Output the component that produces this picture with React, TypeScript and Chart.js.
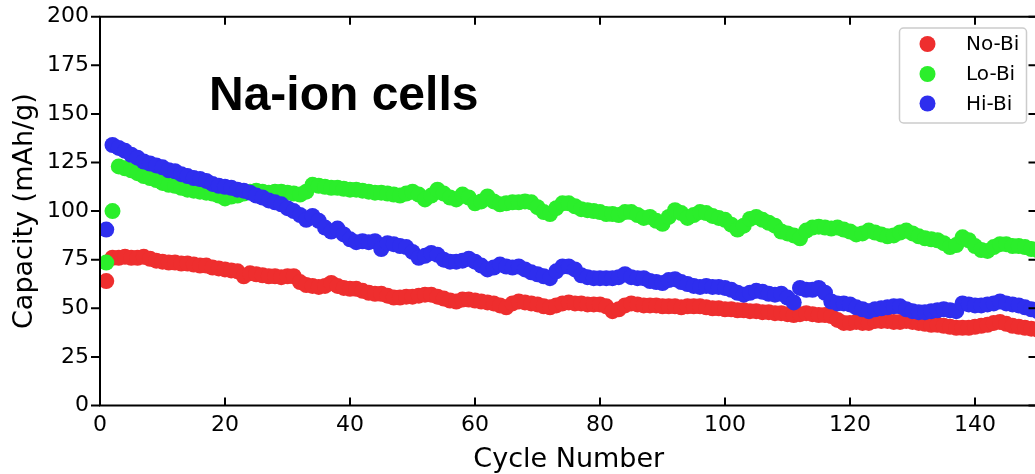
import React, { useEffect, useRef } from "react";
import { Chart, registerables } from "chart.js";

Chart.register(...registerables);

// ---------------- data ----------------
const cycles: number[] = Array.from({ length: 150 }, (_, i) => i + 1);

const noBi: number[] = [
  64, 76, 76, 76.5, 76, 76, 76.5, 75.5, 74.5, 74,
  73.5, 73.5, 73, 73, 72.5, 72, 72, 71, 70.5, 70,
  69.5, 69, 66.5, 68, 67.5, 67, 66.5, 66.5, 66, 66.5,
  66.5, 63.5, 62, 61.5, 61, 61.5, 63, 61.5, 60.5, 60,
  60, 59, 58, 57.5, 57.5, 56.5, 55.5, 55.5, 56, 56,
  56.5, 57, 57, 56, 55, 54, 53.5, 54.5, 54.5, 54,
  53.5, 53, 52.5, 51.5, 50.5, 52.5, 53.5, 53, 52.5, 52,
  51, 50.5, 51.5, 52.5, 53, 52.5, 52.5, 52, 52, 52,
  51, 48.5, 49.5, 51.5, 52.5, 52, 51.5, 51.5, 51.5, 51,
  51, 51, 50.5, 51, 51, 51, 50.5, 50, 50, 49.5,
  49.5, 49, 49, 48.5, 48.5, 48, 48, 47.5, 47.5, 47,
  46.5, 47, 47.5, 47, 46.5, 46.5, 46, 44, 42.5, 42.5,
  43, 42.5, 42.5, 43.5, 43.5, 43.5, 43, 43, 43.5, 43,
  42.5, 42, 41.5, 41.5, 41, 40.5, 40, 40, 40, 40.5,
  41, 41.5, 42.5, 43, 42, 41, 40.5, 40, 39.5, 39,
];

const loBi: number[] = [
  73.5, 100, 123, 122, 121, 119.5, 118, 117, 116, 114.5,
  113.5, 113, 112, 111, 110.5, 110, 109.5, 109, 108, 106.5,
  107.5, 108, 109, 110, 110.5, 110, 109.5, 110, 110, 109.5,
  109, 108.5, 110, 113.5, 113, 112.5, 112, 112, 111.5, 111,
  111, 110.5, 110, 109.5, 109.5, 109, 108.5, 108, 109, 110,
  108.5, 106, 108, 111, 109, 107, 106, 108.5, 107, 104,
  105, 107.5, 105, 103.5, 104, 104.5, 104.5, 105, 104.5, 102,
  99.5, 98.5, 101.5, 104, 104, 102.5, 101, 100.5, 100, 99.5,
  98.5, 98.5, 98, 99.5, 99.5, 98, 96.5, 97, 95, 93.5,
  97, 100.5, 99, 96.5, 98, 99.5, 99, 97.5, 96.5, 95.5,
  93, 90.5, 92.5, 96, 97, 95.5, 94, 92.5, 89.5, 88.5,
  87.5, 86, 90, 91.5, 92, 91.5, 91, 91.5, 90.5, 89.5,
  88, 88.5, 90, 89, 88, 87, 87.5, 89, 90, 88.5,
  87, 86, 85.5, 85, 83.5, 81.5, 82.5, 86.5, 85, 82,
  80, 79.5, 81.5, 83, 83, 82, 82, 81.5, 80.5, 80,
];

const hiBi: number[] = [
  90.5, 134, 132.5, 131, 129, 127.5, 125.5, 124.5, 123.5, 122.5,
  121, 120.5, 119, 118, 117, 116.5, 115.5, 114, 113, 112.5,
  112, 111, 110.5, 109.5, 108, 107, 105.5, 104.5, 103.5, 101.5,
  100, 98, 95.5, 97.5, 95, 91.5, 89.5, 91, 88, 85.5,
  84, 84.5, 84, 84.5, 80.5, 83.5, 83, 82, 81.5, 79,
  76, 77, 78.5, 77.5, 75, 74, 74, 74.5, 75.5, 74,
  72, 70, 71, 72.5, 71.5, 71, 71.5, 70, 68.5, 67.5,
  66.5, 65.5, 69, 71.5, 71.5, 70, 67, 66, 65.5, 65.5,
  65.5, 65.5, 66, 67.5, 66, 65.5, 65.5, 64, 63.5, 63,
  64.5, 65, 63.5, 62.5, 61.5, 61, 61.5, 61, 61, 60.5,
  59.5, 58, 57, 58, 59, 58.5, 57.5, 57, 57.5, 55.5,
  53, 60.5, 59.5, 59.5, 60.5, 58, 53.5, 52.5, 52.5, 52,
  50.5, 49.5, 48.5, 49.5, 50, 50.5, 51, 51, 49.5, 48.5,
  48, 48, 48.5, 49, 49.5, 49, 48.5, 52.5, 52, 51.5,
  51.5, 52, 52.5, 53.5, 52.5, 52, 51.5, 50.5, 49.5, 48.5,
];

const seriesLabels: string[] = ["No-Bi", "Lo-Bi", "Hi-Bi"];
const seriesColors: string[] = ["#ee2e2e", "#2bee2b", "#2e2eee"];
const xTicks: number[] = [0, 20, 40, 60, 80, 100, 120, 140];
const yTicks: number[] = [0, 25, 50, 75, 100, 125, 150, 175, 200];
const annotationText = "Na-ion cells";
const xTitle = "Cycle Number";
const yTitle = "Capacity (mAh/g)";

const FONT = "'DejaVu Sans', sans-serif";

const framePlugin = {
  id: "frame",
  afterDraw(chart: any) {
    const { ctx, chartArea: a, scales } = chart;
    const xs = scales.x;
    const ys = scales.y;
    ctx.save();
    // spines
    ctx.strokeStyle = "#000";
    ctx.lineWidth = 2;
    ctx.beginPath();
    ctx.rect(a.left, a.top, a.right - a.left, a.bottom - a.top);
    ctx.stroke();
    // ticks
    ctx.beginPath();
    for (const v of xTicks) {
      const px = xs.getPixelForValue(v);
      ctx.moveTo(px, a.bottom);
      ctx.lineTo(px, a.bottom - 8);
      ctx.moveTo(px, a.top);
      ctx.lineTo(px, a.top + 8);
    }
    for (const v of yTicks) {
      const py = ys.getPixelForValue(v);
      ctx.moveTo(a.left, py);
      ctx.lineTo(a.left - 9, py);
      ctx.moveTo(a.right, py);
      ctx.lineTo(a.right - 9, py);
    }
    ctx.stroke();

    // annotation
    ctx.fillStyle = "#000";
    ctx.font = "bold 48px 'Liberation Sans', Arial, sans-serif";
    ctx.textAlign = "left";
    ctx.textBaseline = "alphabetic";
    ctx.fillText(annotationText, 209, 110);

    // legend
    const bx = 899.5, by = 28, bw = 127, bh = 95, r = 4;
    ctx.beginPath();
    ctx.moveTo(bx + r, by);
    ctx.lineTo(bx + bw - r, by);
    ctx.arcTo(bx + bw, by, bx + bw, by + r, r);
    ctx.lineTo(bx + bw, by + bh - r);
    ctx.arcTo(bx + bw, by + bh, bx + bw - r, by + bh, r);
    ctx.lineTo(bx + r, by + bh);
    ctx.arcTo(bx, by + bh, bx, by + bh - r, r);
    ctx.lineTo(bx, by + r);
    ctx.arcTo(bx, by, bx + r, by, r);
    ctx.closePath();
    ctx.fillStyle = "rgba(255,255,255,0.8)";
    ctx.fill();
    ctx.strokeStyle = "#cccccc";
    ctx.lineWidth = 1.5;
    ctx.stroke();

    const rowsY = [44, 74, 103.5];
    chart.data.datasets.forEach((ds: any, i: number) => {
      ctx.beginPath();
      ctx.arc(927.5, rowsY[i], 8, 0, Math.PI * 2);
      ctx.fillStyle = ds.backgroundColor;
      ctx.fill();
      ctx.fillStyle = "#000";
      ctx.font = `20px ${FONT}`;
      ctx.textAlign = "left";
      ctx.textBaseline = "middle";
      ctx.fillText(ds.label, 966, rowsY[i] + 1);
    });
    ctx.restore();
  },
};

export default function App() {
  const canvasRef = useRef<HTMLCanvasElement | null>(null);

  useEffect(() => {
    document.body.style.margin = "0";
    document.body.style.overflow = "hidden";
    const canvas = canvasRef.current;
    if (!canvas) return;
    const series = [noBi, loBi, hiBi];
    const chart = new Chart(canvas, {
      type: "scatter",
      data: {
        datasets: series.map((vals, i) => ({
          label: seriesLabels[i],
          data: vals.map((v, j) => ({ x: cycles[j], y: v })),
          backgroundColor: seriesColors[i],
          borderColor: seriesColors[i],
          pointRadius: 8,
          pointHoverRadius: 8,
          pointBorderWidth: 0,
          order: 3 - i,
          clip: 0,
        })),
      },
      options: {
        responsive: false,
        animation: false,
        devicePixelRatio: 1,
        layout: { padding: { left: 0, top: 16.7, right: 8.5, bottom: 0 } },
        plugins: {
          legend: { display: false },
          tooltip: { enabled: false },
        },
        scales: {
          x: {
            type: "linear",
            min: 0,
            max: 150,
            grid: { display: false, drawTicks: false },
            border: { display: false },
            afterBuildTicks: (scale: any) => {
              scale.ticks = xTicks.map((v) => ({ value: v }));
            },
            afterFit: (scale: any) => {
              scale.height = 68.5;
              scale.paddingLeft = 0;
              scale.paddingRight = 0;
              scale.paddingTop = 0;
              scale.paddingBottom = 0;
            },
            ticks: {
              color: "#000",
              padding: 7,
              font: { family: FONT, size: 22 },
              maxRotation: 0,
              autoSkip: false,
            },
            title: {
              display: true,
              text: xTitle,
              color: "#000",
              font: { family: FONT, size: 27, lineHeight: 1.2 },
              padding: { top: 0, bottom: -2 },
            },
          },
          y: {
            type: "linear",
            min: 0,
            max: 200,
            grid: { display: false, drawTicks: false },
            border: { display: false },
            afterBuildTicks: (scale: any) => {
              scale.ticks = yTicks.map((v) => ({ value: v }));
            },
            afterFit: (scale: any) => {
              scale.width = 100;
              scale.paddingLeft = 0;
              scale.paddingRight = 0;
              scale.paddingTop = 0;
              scale.paddingBottom = 0;
            },
            ticks: {
              color: "#000",
              padding: 11,
              font: { family: FONT, size: 22 },
              autoSkip: false,
            },
            title: {
              display: true,
              text: yTitle,
              color: "#000",
              font: { family: FONT, size: 27, lineHeight: 1.2 },
              padding: { top: 9, bottom: 0 },
            },
          },
        },
      },
      plugins: [framePlugin],
    });
    return () => chart.destroy();
  }, []);

  return (
    <div
      style={{
        position: "fixed",
        left: 0,
        top: 0,
        width: 1035,
        height: 474,
        overflow: "hidden",
        background: "#fff",
      }}
    >
      <div style={{ width: 1046, height: 474 }}>
        <canvas
          ref={canvasRef}
          width={1046}
          height={474}
          style={{ display: "block", width: 1046, height: 474 }}
        />
      </div>
    </div>
  );
}
